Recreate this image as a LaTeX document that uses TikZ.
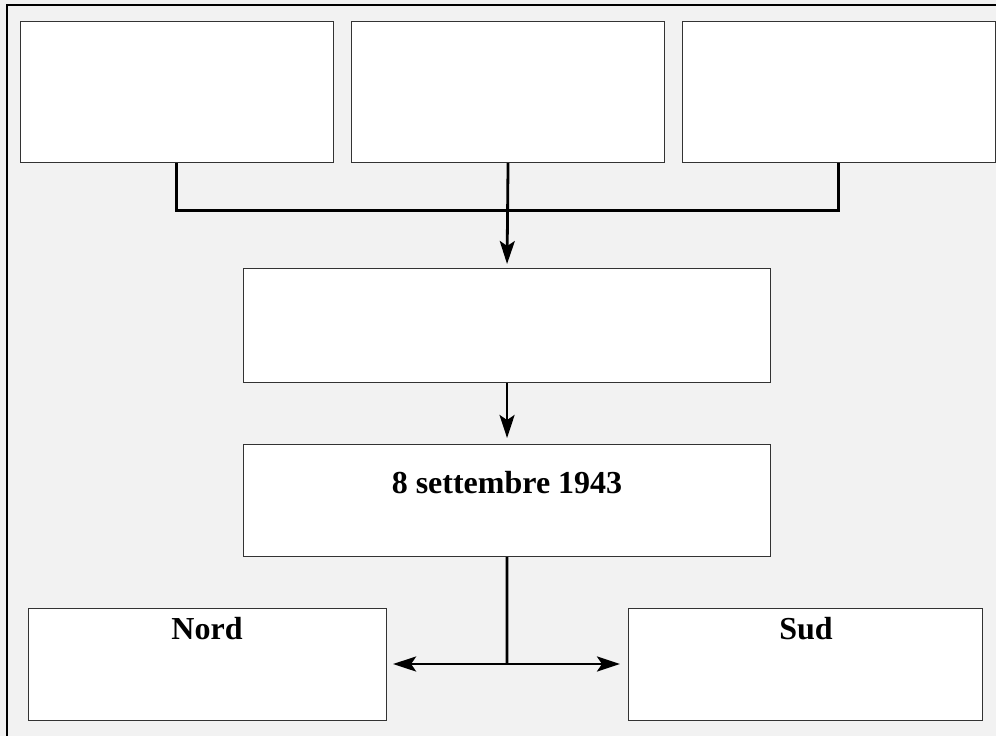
\documentclass[tikz,border=0pt]{standalone}
\usepackage{fontspec}
\setmainfont{Liberation Serif}
\usetikzlibrary{arrows.meta,calc}
\definecolor{bg}{HTML}{F2F2F2}
\tikzset{
  box/.style={draw=black!80, line width=1.1pt, fill=white, inner sep=0pt, anchor=north west},
  conn/.style={line width=2.8pt, black},
  arr/.style={conn, -{Stealth[length=23pt,width=15pt,inset=5pt]}},
  lbl/.style={font=\fontsize{32}{36}\selectfont\bfseries, anchor=base, inner sep=0pt}
}
\begin{document}
\begin{tikzpicture}[x=1pt,y=-1pt]
\useasboundingbox (0,0) rectangle (996,736);
\fill[bg] (0,0) rectangle (996,736);
\draw[line width=1.6pt, black] (7,5) rectangle (1002,742);
\node[box, minimum width=313pt, minimum height=141pt] (b1) at (20,21) {};
\node[box, minimum width=313pt, minimum height=141pt] (b2) at (351,21) {};
\node[box, minimum width=313pt, minimum height=141pt] (b3) at (682,21) {};
\node[box, minimum width=527pt, minimum height=114pt] (b4) at (243,268) {};
\node[box, minimum width=527pt, minimum height=112pt] (b5) at (243,444) {};
\node[box, minimum width=358pt, minimum height=112pt] (nord) at (28,608) {};
\node[box, minimum width=354pt, minimum height=112pt] (sud) at (628,608) {};
\node[lbl] (t5) at (507,493) {8 settembre 1943};
\node[lbl] (tn) at (207,639) {Nord};
\node[lbl] (ts) at (806,639) {Sud};
\coordinate (j1) at (176,210);
\coordinate (j3) at (838,210);
\coordinate (j5) at (507,664);
\draw[conn, line width=3pt] (b1.south -| j1) -- (j1) -- (j3) -- (b3.south -| j3);
\draw[arr] (b2.south) -- ($(b4.north)+(0,-4)$);
\draw[arr] (b4.south) -- ($(b5.north)+(0,-6)$);
\draw[conn] (b5.south) -- (j5);
\draw[arr] (j5) -- ($(nord.east |- j5)+(6,0)$);
\draw[arr] (j5) -- ($(sud.west |- j5)+(-8,0)$);
\end{tikzpicture}
\end{document}
